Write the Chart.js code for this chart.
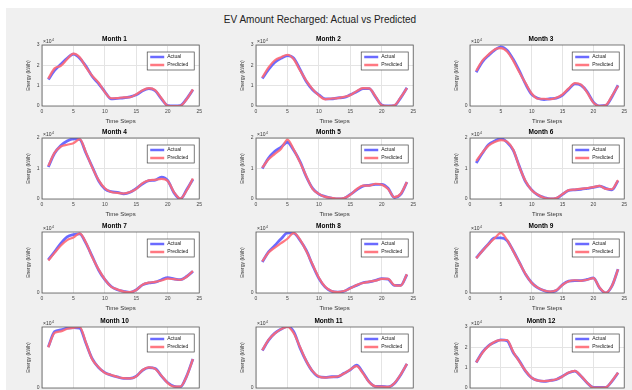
<!DOCTYPE html>
<html>
<head>
<meta charset="utf-8">
<script src="https://cdn.jsdelivr.net/npm/chart.js@4.4.0/dist/chart.umd.min.js"></script>
<style>
  html, body { margin: 0; padding: 0; background: #fff; }
  body { width: 632px; height: 390px; position: relative; overflow: hidden; font-family: "Liberation Sans", Arial, sans-serif; }
  #fig { position: absolute; left: 6px; top: 8px; width: 626px; height: 382px; background: #f0f0f0; }
  #title { position: absolute; left: 0; width: 640px; top: 14px; text-align: center; font-size: 10px; color: #222; }
  canvas { position: absolute; }
</style>
</head>
<body>
<div id="fig"></div>
<div id="title">EV Amount Recharged: Actual vs Predicted</div>

<script>
// Data (kWh), time steps 1..24
const timeSteps = [1,2,3,4,5,6,7,8,9,10,11,12,13,14,15,16,17,18,19,20,21,22,23,24];
const monthNames = ["Month 1","Month 2","Month 3","Month 4","Month 5","Month 6","Month 7","Month 8","Month 9","Month 10","Month 11","Month 12"];
const seriesLabels = ["Actual", "Predicted"];

const actual1 = [13000,17500,20500,23500,25500,23500,19500,14500,11000,7000,3500,3800,4000,4500,5500,7500,8500,7500,3500,200,0,200,3500,8000];
const predicted1 = [13500,18500,19800,23000,25800,24000,19000,14800,11500,6800,3800,3900,4200,4300,5800,7800,8800,7800,3800,100,0,100,3300,8200];
const actual2 = [13500,18000,21500,23500,24800,23500,18000,12000,8000,5500,3500,3500,4000,4200,5500,7000,8500,8500,4500,500,0,200,4000,9000];
const predicted2 = [14000,19000,22500,24000,25200,23000,17500,12500,8300,5200,3300,3700,3900,4500,5300,7300,8800,8700,4700,300,0,300,4200,8800];
const actual3 = [13000,17000,19500,21500,22800,21500,18000,13500,8500,4500,3000,2500,2800,3000,4200,6500,8500,8000,5500,1500,0,200,3500,8000];
const predicted3 = [13500,17500,19800,21800,22300,21000,17500,13000,8800,4800,2800,2800,2600,3200,4500,6800,8800,8200,5200,1300,0,300,3800,7800];
const actual4 = [10500,15000,17500,19000,19700,19500,15000,10500,6000,3300,2400,2200,1700,2200,3500,5000,6000,6200,7200,6000,2000,0,3000,6500];
const predicted4 = [10800,15200,17200,17800,18300,19600,15200,10300,6200,3500,2300,2000,1800,2300,3300,5200,6100,6300,6600,5900,2200,100,2800,6700];
const actual5 = [10000,13400,15600,17000,18600,16000,12300,7300,3500,1600,800,300,0,200,1500,3000,4200,4500,4800,4800,3500,500,1500,5500];
const predicted5 = [10300,13000,14800,16500,19500,16200,12000,7500,3300,1700,700,400,100,300,1400,3200,4400,4400,5000,4700,3300,600,1700,5600];
const actual6 = [11800,15000,17800,19000,19800,18600,16000,10700,5700,3000,1300,500,0,200,1500,2800,3000,3200,3500,3800,4200,3500,3000,6000];
const predicted6 = [12500,15200,17500,18700,19300,18800,16200,10500,5900,2900,1400,400,100,300,1600,2900,3100,3300,3600,3900,4300,3300,3200,6200];
const actual7 = [12200,15200,18300,20700,21500,21800,18300,13400,8500,4900,2400,1200,600,200,1200,3000,3700,4000,4900,5700,5200,4900,6100,8000];
const predicted7 = [12000,14800,17500,19500,20500,22000,18500,13200,8700,5000,2300,1300,500,300,1100,3100,3800,4100,4600,5300,5100,4800,6000,8100];
const actual8 = [10600,14000,16200,18500,20500,20400,18000,14500,9500,5000,2000,600,300,600,1700,2600,3500,3800,4300,4900,4700,2600,2600,6300];
const predicted8 = [10800,13800,15500,17000,18500,20500,18200,14300,9700,5200,2100,700,300,700,1600,2700,3400,3900,4200,4800,4800,2700,2500,6400];
const actual9 = [12900,15600,18100,20300,20300,19400,15600,11300,6900,3800,1900,900,400,900,3100,4400,4600,4600,5000,5600,1900,0,2500,8800];
const predicted9 = [12800,15500,18000,20200,22200,19600,15500,11200,7000,3700,2000,900,500,1000,3000,4300,4700,4500,4900,5500,2000,100,2600,8700];
const actual10 = [14100,19400,20000,20600,20800,20600,15300,10000,7000,5300,4400,3800,3300,3300,4100,6100,7000,6700,4100,1800,600,400,4100,10000];
const predicted10 = [14000,19000,19500,20400,20700,21000,15500,9800,7200,5200,4500,3800,3400,3300,4000,6200,7100,6600,4200,1700,500,500,4000,9900];
const actual11 = [14000,17900,20500,22000,23000,21000,15000,10000,6200,4200,4000,4200,4200,5500,6800,8500,5800,2300,600,600,400,1700,4900,9000];
const predicted11 = [14100,18000,20400,22000,22800,20500,15300,10100,6300,4300,3900,4100,4300,5400,6900,8200,5500,2200,600,500,400,1800,5000,9000];
const actual12 = [12500,17500,20800,22500,23700,23300,17500,13300,8300,5000,3700,3300,3700,4200,5800,7500,8300,5800,2500,300,300,300,3300,7500];
const predicted12 = [12600,17300,20600,22800,23500,23600,17800,13000,8500,5100,3600,3400,3600,4300,5700,7600,8400,5900,2600,200,200,300,3400,7600];

const actualAll = [actual1,actual2,actual3,actual4,actual5,actual6,actual7,actual8,actual9,actual10,actual11,actual12];
const predictedAll = [predicted1,predicted2,predicted3,predicted4,predicted5,predicted6,predicted7,predicted8,predicted9,predicted10,predicted11,predicted12];

// y-axis upper limits per month
const yMax = [30000,30000,23500,20000,20000,20000,22500,20800,22500,21000,22800,30000];
const xTicks = [0,5,10,15,20,25];

// layout of the plot areas
const plotLefts = [42, 256, 470];
const plotWidths = [161, 161, 158];
const plotTops = [45, 138, 232, 327];
const plotH = 61;
const yAxisW = 16, titleH = 12, xAxisH = 19, rightPad = 2;

Chart.defaults.font.family = '"Liberation Sans", Arial, sans-serif';
Chart.defaults.color = '#333';

const plotBackground = {
  id: 'plotBackground',
  beforeDraw(chart) {
    const { ctx, chartArea: a } = chart;
    ctx.save();
    ctx.fillStyle = '#fff';
    ctx.fillRect(a.left, a.top, a.right - a.left, a.bottom - a.top);
    ctx.restore();
  },
  afterDraw(chart) {
    const { ctx, chartArea: a } = chart;
    ctx.save();
    ctx.strokeStyle = '#5a5a5a';
    ctx.lineWidth = 0.8;
    ctx.strokeRect(a.left, a.top, a.right - a.left, a.bottom - a.top);
    // exponent label
    ctx.fillStyle = '#333';
    ctx.font = '5px "Liberation Sans", Arial, sans-serif';
    ctx.textBaseline = 'bottom';
    ctx.fillText('\u00d710', a.left + 1, a.top - 1);
    const w = ctx.measureText('\u00d710').width;
    ctx.font = '3.5px "Liberation Sans", Arial, sans-serif';
    ctx.fillText('4', a.left + 1 + w + 0.5, a.top - 3);
    ctx.restore();
  }
};

const insideLegend = {
  id: 'insideLegend',
  afterDatasetsDraw(chart) {
    const { ctx, chartArea: a } = chart;
    const bw = 47, bh = 18;
    const bx = a.right - bw - 5, by = a.top + 7;
    ctx.save();
    ctx.fillStyle = '#fff';
    ctx.fillRect(bx, by, bw, bh);
    ctx.strokeStyle = '#444';
    ctx.lineWidth = 0.7;
    ctx.strokeRect(bx, by, bw, bh);
    ctx.font = '5px "Liberation Sans", Arial, sans-serif';
    ctx.textBaseline = 'middle';
    chart.data.datasets.forEach((ds, i) => {
      const y = by + 5 + i * 8;
      ctx.strokeStyle = ds.borderColor;
      ctx.lineWidth = 2.5;
      ctx.beginPath();
      ctx.moveTo(bx + 3, y);
      ctx.lineTo(bx + 17, y);
      ctx.stroke();
      ctx.fillStyle = '#222';
      ctx.fillText(ds.label, bx + 20, y);
    });
    ctx.restore();
  }
};

function makeChart(m) {
  const col = m % 3, row = Math.floor(m / 3);
  const canvas = document.createElement('canvas');
  const cw = yAxisW + plotWidths[col] + rightPad, ch = titleH + plotH + xAxisH;
  canvas.width = cw; canvas.height = ch;
  canvas.style.width = cw + 'px'; canvas.style.height = ch + 'px';
  canvas.style.left = (plotLefts[col] - yAxisW) + 'px';
  canvas.style.top = (plotTops[row] - titleH) + 'px';
  document.body.appendChild(canvas);

  new Chart(canvas.getContext('2d'), {
    type: 'line',
    data: {
      datasets: [
        {
          label: seriesLabels[0],
          data: timeSteps.map((t, i) => ({ x: t, y: actualAll[m][i] })),
          borderColor: 'rgba(80, 80, 255, 0.85)',
          borderWidth: 2.8,
          cubicInterpolationMode: 'monotone',
          pointRadius: 0,
          fill: false,
          order: 2,
        },
        {
          label: seriesLabels[1],
          data: timeSteps.map((t, i) => ({ x: t, y: predictedAll[m][i] })),
          borderColor: 'rgba(255, 105, 115, 0.9)',
          borderWidth: 2.2,
          cubicInterpolationMode: 'monotone',
          pointRadius: 0,
          fill: false,
          order: 1,
        },
      ],
    },
    options: {
      responsive: false,
      animation: false,
      devicePixelRatio: 1,
      layout: { padding: { left: 0, right: rightPad, top: 0, bottom: 0 } },
      plugins: {
        legend: { display: false },
        tooltip: { enabled: false },
        title: {
          display: true,
          text: monthNames[m],
          color: '#000',
          font: { size: 6.5, weight: 'bold' },
          padding: { top: 2, bottom: 2.2 },
        },
      },
      scales: {
        x: {
          type: 'linear',
          min: 0,
          max: 25,
          afterBuildTicks: (s) => { s.ticks = xTicks.map(v => ({ value: v })); },
          afterFit: (s) => { s.height = xAxisH; },
          grid: { color: '#e4e4e4', drawTicks: false },
          border: { display: false },
          ticks: { font: { size: 5 }, color: '#444', padding: 3 },
          title: { display: true, text: 'Time Steps', font: { size: 6 }, color: '#333', padding: { top: 0, bottom: 0 } },
        },
        y: {
          min: 0,
          max: yMax[m],
          afterBuildTicks: (s) => { s.ticks = s.ticks.filter(t => t.value % 10000 === 0); },
          afterFit: (s) => { s.width = yAxisW; },
          grid: { color: '#e4e4e4', drawTicks: false },
          border: { display: false },
          ticks: { stepSize: 10000, font: { size: 5 }, color: '#444', padding: 2.5, callback: (v) => v / 10000 },
          title: { display: true, text: 'Energy (kWh)', font: { size: 5 }, color: '#333', padding: { top: 0, bottom: 0 } },
        },
      },
    },
    plugins: [plotBackground, insideLegend],
  });
}

for (let m = 0; m < 12; m++) makeChart(m);
</script>
</body>
</html>
